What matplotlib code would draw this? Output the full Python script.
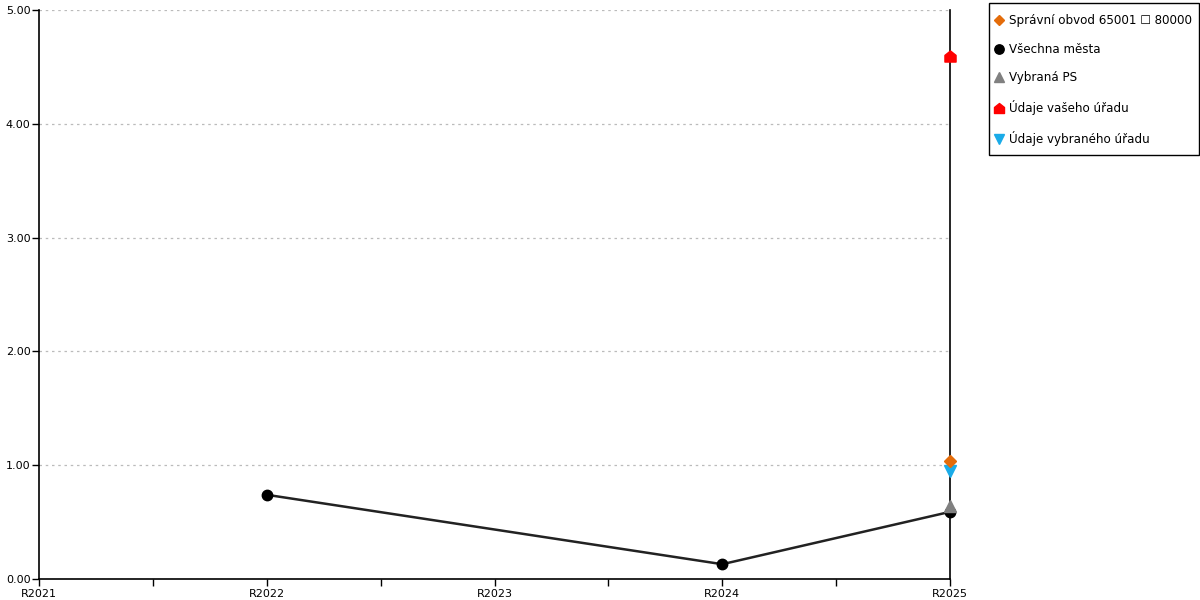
import matplotlib
matplotlib.use("Agg")
import matplotlib.pyplot as plt
from matplotlib.path import Path
from matplotlib.patches import Rectangle
import numpy as np

years = ["R2021", "R2022", "R2023", "R2024", "R2025"]
vsechna_mesta = [None, 0.74, None, 0.13, 0.59]
spravni_obvod = [None, None, None, None, 1.04]
vybrana_ps = [None, None, None, None, 0.64]
vaseho_uradu = [None, None, None, None, 4.60]
vybraneho_uradu = [None, None, None, None, 0.95]
yticks = [0, 1, 2, 3, 4, 5]

plt.rcParams['font.family'] = ['DejaVu Sans']

house = Path([(-1, -1), (1, -1), (1, 0.2), (0, 1), (-1, 0.2), (-1, -1)],
             [Path.MOVETO, Path.LINETO, Path.LINETO, Path.LINETO, Path.LINETO, Path.CLOSEPOLY])

fig = plt.figure(figsize=(12, 6), dpi=100)
ax = fig.add_axes([39/1200, 1-579/600, (950-39)/1200, (579-10)/600])

def pts(vals):
    xs = [i for i, v in enumerate(vals) if v is not None]
    ys = [v for v in vals if v is not None]
    return xs, ys

x, y = pts(spravni_obvod)
h1, = ax.plot(x, y, linestyle='none', marker='D', markersize=6, color='#E46C0A', zorder=6,
              label='Správní obvod 65001 \u2610 80000', clip_on=False)
x, y = pts(vsechna_mesta)
h2, = ax.plot(x, y, color='#222222', linewidth=1.8, marker='o', markersize=7.5,
              markerfacecolor='black', markeredgecolor='black', zorder=4, label='Všechna města',
              clip_on=False)
x, y = pts(vybrana_ps)
h3, = ax.plot(x, y, linestyle='none', marker='^', markersize=8, color='#808080', zorder=5,
              label='Vybraná PS', clip_on=False)
x, y = pts(vaseho_uradu)
h4, = ax.plot(x, y, linestyle='none', marker=house, markersize=8, color='#FF0000', zorder=6,
              label='Údaje vašeho úřadu', clip_on=False)
x, y = pts(vybraneho_uradu)
h5, = ax.plot(x, y, linestyle='none', marker='v', markersize=8, color='#1AABE8', zorder=5,
              label='Údaje vybraného úřadu', clip_on=False)

ax.set_xlim(0, len(years) - 1)
ax.set_ylim(0, 5)
ax.set_xticks(range(len(years)))
ax.set_xticklabels(years)
ax.set_xticks(np.arange(0.5, len(years) - 1, 1.0), minor=True)
ax.set_yticks(yticks)
ax.set_yticklabels([f"{v:.2f}" for v in yticks])
ax.tick_params(axis='both', which='both', direction='out', length=5, width=1, labelsize=8, pad=1,
               colors='black')
ax.tick_params(axis='x', which='minor', length=5)
ax.tick_params(axis='x', pad=2)

for s in ['left', 'bottom', 'right']:
    ax.spines[s].set_color('black')
    ax.spines[s].set_linewidth(1.2)
    ax.spines[s].set_zorder(2)
ax.spines['top'].set_visible(False)

ax.yaxis.grid(True, linestyle=(0, (2, 3)), color='#BBBBBB', linewidth=0.9)
ax.set_axisbelow(True)

leg = fig.legend(handles=[h1, h2, h3, h4, h5], loc='upper left',
                 bbox_to_anchor=(983/1200, 1 - 2/600), bbox_transform=fig.transFigure,
                 borderaxespad=0, fontsize=8.6, frameon=False,
                 handlelength=0.6, handletextpad=0.55,
                 labelspacing=1.32, borderpad=1.0, markerscale=0.9)
for lh in leg.get_lines():
    lh.set_linestyle('none')

fig.patches.append(Rectangle((988.5/1200, 1 - 155/600), (1199 - 988.5)/1200, (155 - 2.5)/600,
                             transform=fig.transFigure, fill=False, edgecolor='black',
                             linewidth=1.0))

fig.savefig('out.png', dpi=100)
